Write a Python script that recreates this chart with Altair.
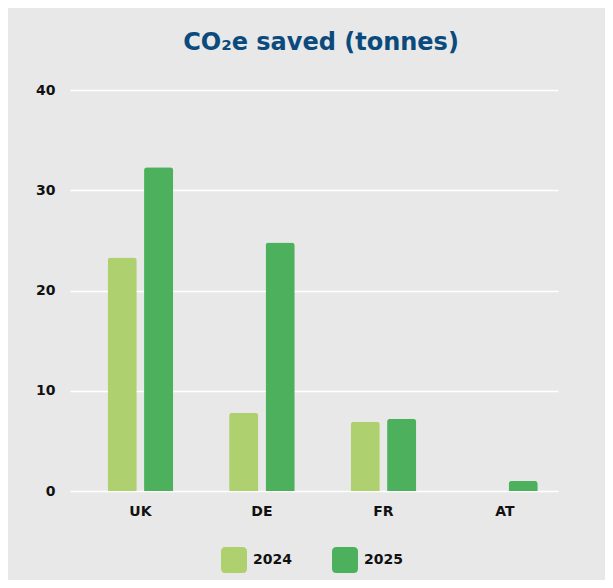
import altair as alt
import pandas as pd

countries = ["UK", "DE", "FR", "AT"]
years = ["2024", "2025"]
values_2024 = [23.3, 7.8, 6.9, None]
values_2025 = [32.3, 24.8, 7.2, 1.0]
colors = ["#afd06e", "#4cb05d"]

rows = []
for c, a, b in zip(countries, values_2024, values_2025):
    if a is not None:
        rows.append({"country": c, "year": "2024", "value": a})
    if b is not None:
        rows.append({"country": c, "year": "2025", "value": b})
df = pd.DataFrame(rows)

FONT = "DejaVu Sans"
rounded_square = ("M -0.65,-1 L 0.65,-1 Q 1,-1 1,-0.65 L 1,0.65 Q 1,1 0.65,1 "
                  "L -0.65,1 Q -1,1 -1,0.65 L -1,-0.65 Q -1,-1 -0.65,-1 Z")

chart = alt.Chart(df).mark_bar(
    cornerRadiusTopLeft=3, cornerRadiusTopRight=3
).encode(
    x=alt.X("country:N", sort=countries,
            scale=alt.Scale(paddingInner=0.46, paddingOuter=0.238, align=0.65),
            axis=alt.Axis(title=None, labelAngle=0, domain=False, ticks=False,
                          labelFontSize=14, labelFontWeight="bold", labelColor="#111111",
                          labelFont=FONT, labelPadding=13)),
    xOffset=alt.XOffset("year:N", sort=years, scale=alt.Scale(paddingInner=0.2)),
    y=alt.Y("value:Q", scale=alt.Scale(domain=[0, 40]),
            axis=alt.Axis(values=[0, 10, 20, 30, 40], title=None, domain=False, ticks=False,
                          grid=True, gridColor="#ffffff", gridWidth=1.5,
                          labelFontSize=14, labelFontWeight="bold", labelColor="#111111",
                          labelFont=FONT, labelPadding=15)),
    color=alt.Color("year:N", sort=years,
                    scale=alt.Scale(domain=years, range=colors),
                    legend=alt.Legend(orient="none", legendX=151, legendY=457,
                                      title=None, direction="horizontal",
                                      symbolType=rounded_square, symbolSize=676,
                                      symbolStrokeWidth=0, symbolOpacity=1,
                                      labelFontSize=14, labelFontWeight="bold",
                                      labelColor="#111111", labelFont=FONT,
                                      labelOffset=6, columnPadding=40)),
).properties(
    width=488,
    height=401,
    title=alt.Title("CO₂e saved (tonnes)", fontSize=24, fontWeight="bold",
                    color="#0b4a7d", font=FONT, offset=28, dx=7),
    autosize=alt.AutoSizeParams(type="none"),
    padding={"left": 62, "top": 82, "right": 47, "bottom": 89},
).configure(
    background="#e8e8e8",
).configure_view(
    stroke=None,
)

chart.save("out.html", embed_options={"renderer": "svg", "actions": False})
